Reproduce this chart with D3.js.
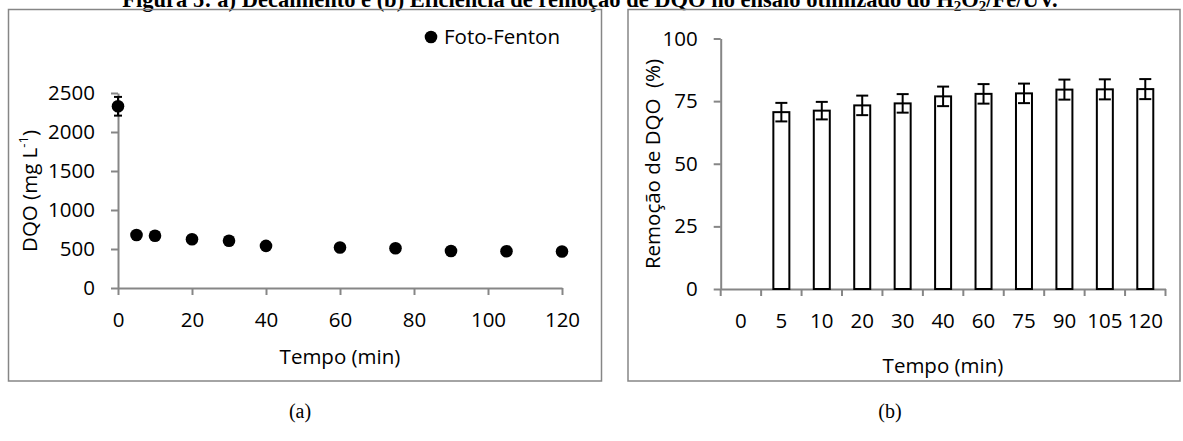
<!DOCTYPE html>
<html>
<head>
<meta charset="utf-8">
<script src="https://cdn.jsdelivr.net/npm/d3@7"></script>
<style>
  body { margin: 0; background: #fff; }
  text { font-family: "Open Sans", sans-serif; }
</style>
</head>
<body>
<div id="chart"></div>
<script>
// panel (a) - DQO decay
const tempoA = [0, 5, 10, 20, 30, 40, 60, 75, 90, 105, 120];
const dqo = [2330, 680, 670, 625, 605, 540, 520, 510, 475, 472, 468];
const dqoErr = [120, 0, 0, 0, 0, 0, 0, 0, 0, 0, 0];
const ticksA = [0, 500, 1000, 1500, 2000, 2500];

// panel (b) - DQO removal
const tempoB = ["0", "5", "10", "20", "30", "40", "60", "75", "90", "105", "120"];
const remocao = [null, 70.6, 71.2, 73.3, 74.1, 76.9, 77.9, 78.1, 79.6, 79.7, 79.8];
const remErr = [null, 3.7, 3.5, 3.9, 3.7, 3.9, 3.9, 3.9, 4.0, 4.0, 4.0];
const ticksB = [0, 25, 50, 75, 100];

const W = 1183, H = 441;
const axisColor = "#868686";
const fs = "20.5px";

const svg = d3.select("#chart").append("svg")
    .attr("width", W)
    .attr("height", H);

// title (cut at the top, like in the original page)
svg.append("text")
    .attr("x", 590)
    .attr("y", 7)
    .attr("text-anchor", "middle")
    .style("font-family", "'Liberation Serif', 'Times New Roman', serif")
    .style("font-weight", "bold")
    .style("font-size", "22.5px")
    .html("Figura 5: a) Decaimento e (b) Eficiência de remoção de DQO no ensaio otimizado do H<tspan baseline-shift='-25%' font-size='15px'>2</tspan>O<tspan baseline-shift='-25%' font-size='15px'>2</tspan>/Fe/UV.");

// frames
svg.append("rect")
    .attr("x", 8.5).attr("y", 9.5)
    .attr("width", 593).attr("height", 371.5)
    .attr("fill", "none").attr("stroke", axisColor).attr("stroke-width", 1.5);
svg.append("rect")
    .attr("x", 628).attr("y", 9.5)
    .attr("width", 552).attr("height", 371.5)
    .attr("fill", "none").attr("stroke", axisColor).attr("stroke-width", 1.5);

function styleAxis(g) {
    g.select(".domain").attr("stroke", axisColor).attr("stroke-width", 2);
    g.selectAll(".tick line").attr("stroke", axisColor).attr("stroke-width", 2);
    g.selectAll("text").style("font-size", fs).attr("fill", "#000")
        .style("font-family", "'Open Sans', sans-serif");
}

// ---------- panel (a) ----------
const xA = d3.scaleLinear().domain([0, 120]).range([118, 562]);
const yA = d3.scaleLinear().domain([0, 2500]).range([288, 93]);

svg.append("g")
    .attr("transform", `translate(0,${yA(0)})`)
    .call(d3.axisBottom(xA).tickValues([0, 20, 40, 60, 80, 100, 120])
        .tickSize(7).tickSizeOuter(0).tickPadding(17.5))
    .call(styleAxis);

svg.append("g")
    .attr("transform", `translate(${xA(0)},0)`)
    .call(d3.axisLeft(yA).tickValues(ticksA).tickFormat(d3.format("d"))
        .tickSize(7).tickSizeOuter(0).tickPadding(16))
    .call(styleAxis);

// error bars
const errA = svg.append("g").attr("stroke", "#000").attr("stroke-width", 2);
tempoA.forEach((t, i) => {
    if (!dqoErr[i]) return;
    const cx = xA(t);
    errA.append("line").attr("x1", cx).attr("x2", cx)
        .attr("y1", yA(dqo[i] + dqoErr[i])).attr("y2", yA(dqo[i] - dqoErr[i]));
    [dqo[i] + dqoErr[i], dqo[i] - dqoErr[i]].forEach(v => {
        errA.append("line").attr("x1", cx - 4).attr("x2", cx + 4)
            .attr("y1", yA(v)).attr("y2", yA(v));
    });
});

svg.append("g")
    .selectAll("circle")
    .data(tempoA)
    .join("circle")
    .attr("cx", d => xA(d))
    .attr("cy", (d, i) => yA(dqo[i]))
    .attr("r", 6.3)
    .attr("fill", "#000");

// legend
svg.append("circle").attr("cx", 431).attr("cy", 37).attr("r", 6.3).attr("fill", "#000");
svg.append("text")
    .attr("x", 444).attr("y", 37).attr("dy", "0.35em")
    .style("font-size", fs)
    .text("Foto-Fenton");

// axis titles
svg.append("text")
    .attr("transform", "translate(30,191) rotate(-90)")
    .attr("text-anchor", "middle").attr("dy", "0.35em")
    .style("font-size", fs)
    .html("DQO (mg L<tspan baseline-shift='super' font-size='13px'>-1</tspan>)");

svg.append("text")
    .attr("x", 340).attr("y", 357).attr("dy", "0.35em")
    .attr("text-anchor", "middle")
    .style("font-size", fs)
    .text("Tempo (min)");

// ---------- panel (b) ----------
const xB = d3.scaleBand().domain(tempoB).range([720.7, 1165.5]);
const yB = d3.scaleLinear().domain([0, 100]).range([289, 38.5]);

svg.append("g")
    .attr("transform", `translate(0,${yB(0)})`)
    .call(d3.axisBottom(xB).tickSize(0).tickSizeOuter(0).tickPadding(24.5))
    .call(styleAxis);

// excel style ticks between categories
svg.append("g")
    .selectAll("line")
    .data(tempoB.map(c => xB(c)).concat([xB.range()[1]]))
    .join("line")
    .attr("x1", d => d).attr("x2", d => d)
    .attr("y1", yB(0)).attr("y2", yB(0) + 7)
    .attr("stroke", axisColor).attr("stroke-width", 2);

svg.append("g")
    .attr("transform", `translate(${xB.range()[0]},0)`)
    .call(d3.axisLeft(yB).tickValues(ticksB)
        .tickSize(7).tickSizeOuter(0).tickPadding(16))
    .call(styleAxis);

const barW = 16;
svg.append("g")
    .selectAll("rect")
    .data(tempoB.filter((c, i) => remocao[i] != null))
    .join("rect")
    .attr("x", d => xB(d) + xB.bandwidth() / 2 - barW / 2)
    .attr("y", d => yB(remocao[tempoB.indexOf(d)]))
    .attr("width", barW)
    .attr("height", d => yB(0) - yB(remocao[tempoB.indexOf(d)]))
    .attr("fill", "#fff")
    .attr("stroke", "#000")
    .attr("stroke-width", 2);

const errB = svg.append("g").attr("stroke", "#000").attr("stroke-width", 2);
tempoB.forEach((c, i) => {
    if (remocao[i] == null) return;
    const cx = xB(c) + xB.bandwidth() / 2;
    const hi = remocao[i] + remErr[i], lo = remocao[i] - remErr[i];
    errB.append("line").attr("x1", cx).attr("x2", cx)
        .attr("y1", yB(hi)).attr("y2", yB(lo));
    [hi, lo].forEach(v => {
        errB.append("line").attr("x1", cx - 6).attr("x2", cx + 6)
            .attr("y1", yB(v)).attr("y2", yB(v));
    });
});

svg.append("text")
    .attr("transform", "translate(653,164) rotate(-90)")
    .attr("text-anchor", "middle").attr("dy", "0.35em")
    .style("font-size", fs)
    .style("white-space", "pre")
    .text("Remoção de DQO  (%)");

svg.append("text")
    .attr("x", 943).attr("y", 366).attr("dy", "0.35em")
    .attr("text-anchor", "middle")
    .style("font-size", fs)
    .text("Tempo (min)");

// panel letters
[["(a)", 300], ["(b)", 890]].forEach(([t, x]) => {
    svg.append("text")
        .attr("x", x).attr("y", 411).attr("dy", "0.35em")
        .attr("text-anchor", "middle")
        .style("font-family", "'Liberation Serif', 'Times New Roman', serif")
        .style("font-size", "20px")
        .text(t);
});
</script>
</body>
</html>
